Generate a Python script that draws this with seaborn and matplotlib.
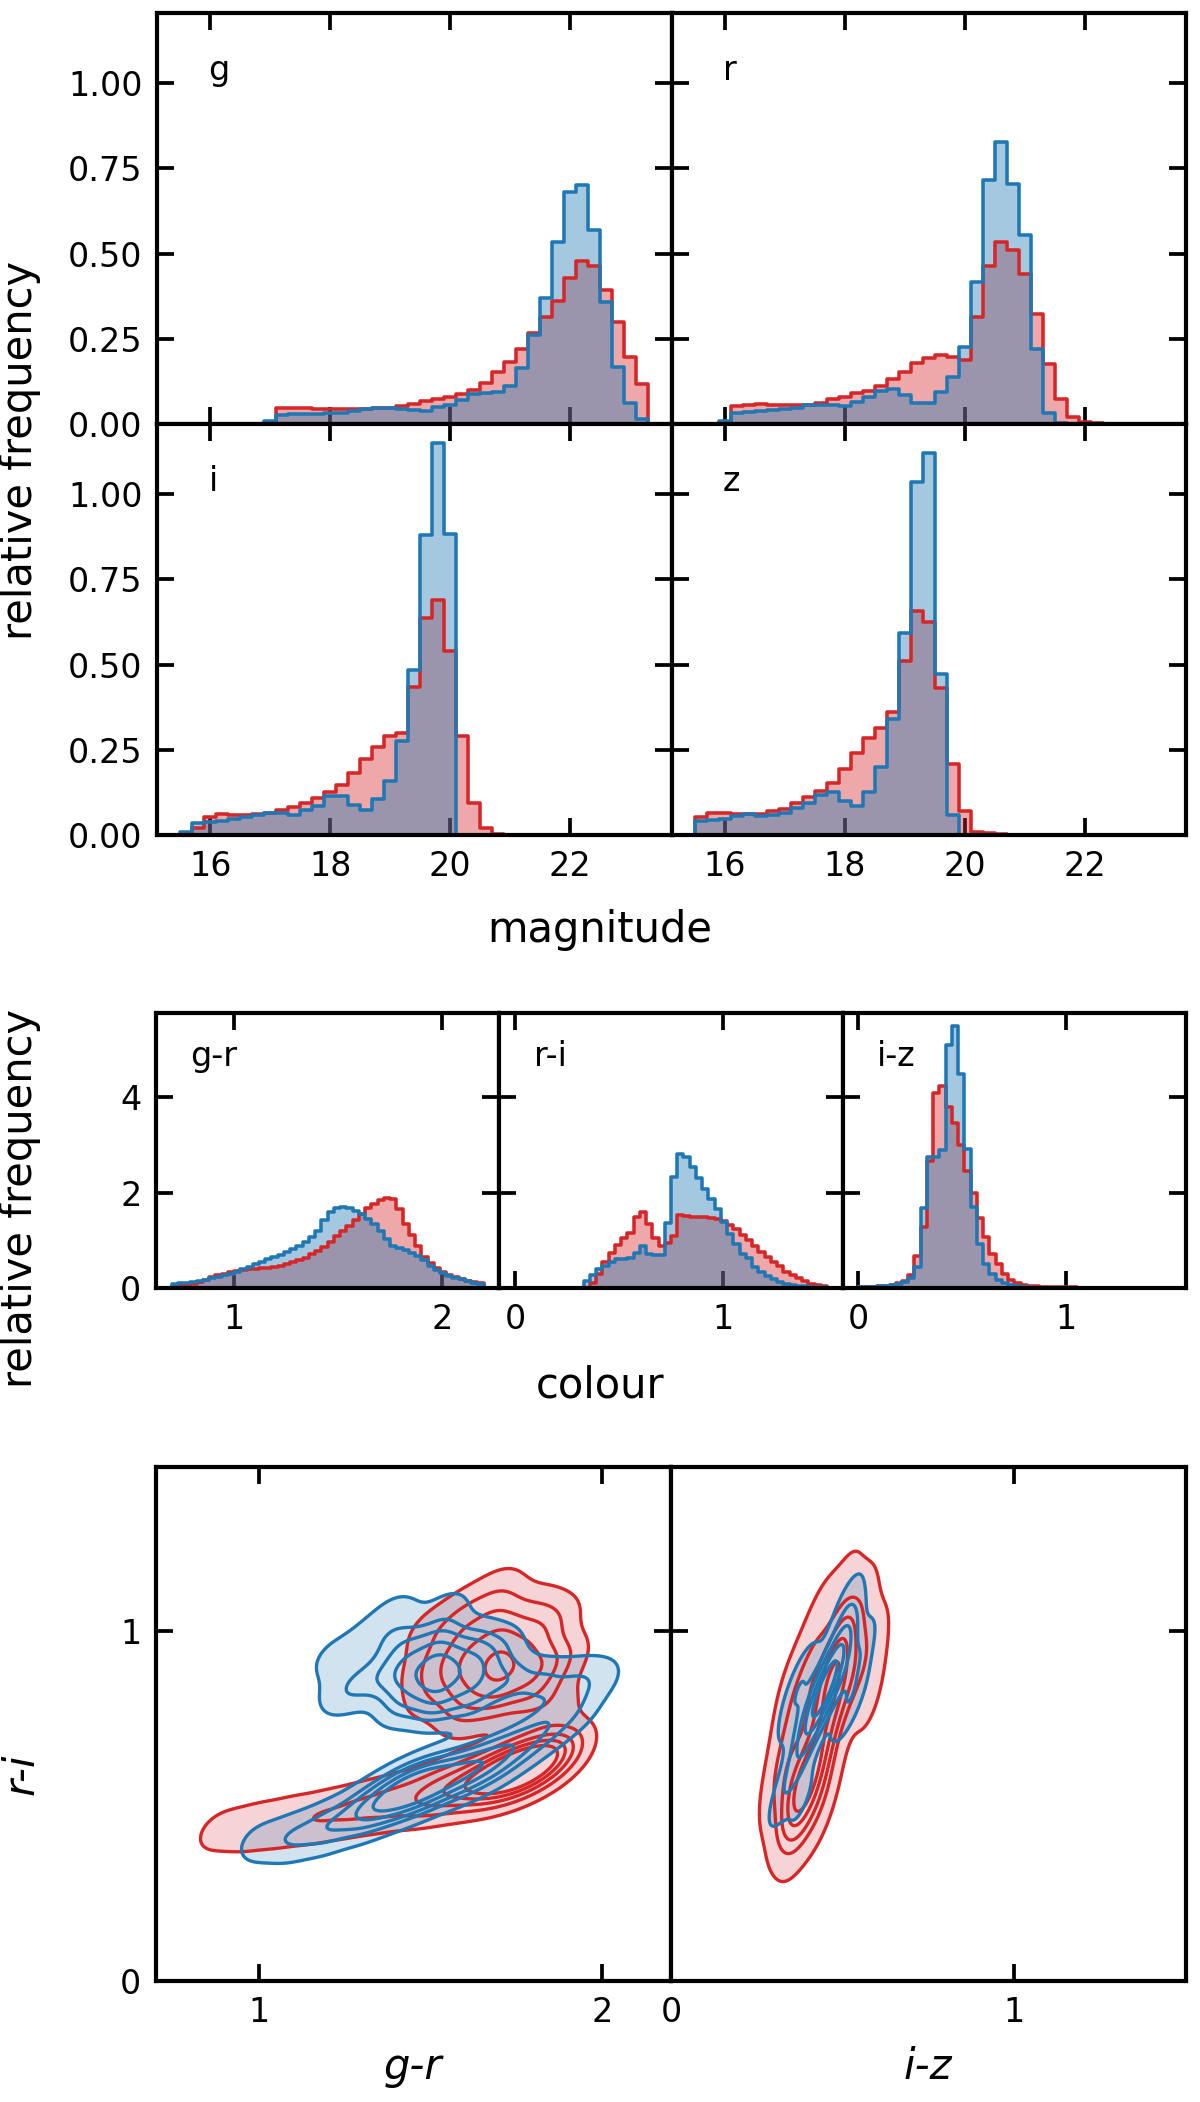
import numpy as np
import matplotlib
matplotlib.use("Agg")
import matplotlib.pyplot as plt
from matplotlib.ticker import FormatStrFormatter
import seaborn as sns

RED = "#d62728"
BLUE = "#1f77b4"

# ---------------- magnitude histograms (relative frequency, 0.2 mag bins) ----------------
mag_bin = 0.2
g_start = 16.9
g_red = [0.003, 0.047, 0.048, 0.046, 0.045, 0.044, 0.043, 0.044, 0.045, 0.047, 0.047,
         0.052, 0.059, 0.067, 0.074, 0.080, 0.088, 0.100, 0.121, 0.153, 0.183, 0.219,
         0.266, 0.315, 0.362, 0.428, 0.477, 0.463, 0.393, 0.298, 0.197, 0.118]
g_blue = [0.010, 0.025, 0.028, 0.029, 0.030, 0.032, 0.033, 0.037, 0.045, 0.047, 0.047,
          0.045, 0.042, 0.039, 0.049, 0.057, 0.070, 0.087, 0.091, 0.094, 0.111, 0.165,
          0.260, 0.370, 0.534, 0.680, 0.700, 0.570, 0.357, 0.168, 0.062, 0.016]
r_start = 15.9
r_red = [0.003, 0.052, 0.057, 0.058, 0.056, 0.055, 0.055, 0.055, 0.062, 0.072, 0.079,
         0.090, 0.098, 0.111, 0.131, 0.153, 0.178, 0.195, 0.203, 0.197, 0.187, 0.315,
         0.464, 0.533, 0.511, 0.440, 0.322, 0.175, 0.074, 0.022, 0.006, 0.002]
r_blue = [0.010, 0.032, 0.036, 0.037, 0.040, 0.043, 0.047, 0.056, 0.057, 0.055, 0.054,
          0.066, 0.078, 0.097, 0.103, 0.085, 0.063, 0.062, 0.095, 0.137, 0.226, 0.418,
          0.715, 0.828, 0.703, 0.555, 0.219, 0.032, 0.003]
i_start = 15.5
i_red = [0.000, 0.020, 0.054, 0.061, 0.059, 0.059, 0.061, 0.064, 0.072, 0.083, 0.095,
         0.108, 0.126, 0.147, 0.182, 0.223, 0.257, 0.290, 0.298, 0.435, 0.636, 0.691,
         0.540, 0.290, 0.093, 0.020, 0.003]
i_blue = [0.010, 0.034, 0.039, 0.042, 0.046, 0.052, 0.059, 0.064, 0.064, 0.059, 0.072,
          0.086, 0.113, 0.113, 0.088, 0.074, 0.106, 0.159, 0.277, 0.483, 0.881, 1.149,
          0.884]
z_start = 15.5
z_red = [0.052, 0.064, 0.064, 0.061, 0.061, 0.061, 0.069, 0.076, 0.095, 0.111, 0.128,
         0.154, 0.194, 0.241, 0.285, 0.314, 0.360, 0.511, 0.658, 0.624, 0.432, 0.209,
         0.069, 0.010, 0.005, 0.003]
z_blue = [0.041, 0.044, 0.047, 0.056, 0.062, 0.057, 0.059, 0.064, 0.079, 0.095, 0.118,
          0.125, 0.101, 0.085, 0.125, 0.199, 0.339, 0.594, 1.036, 1.120, 0.472, 0.059]
mag_labels = ["g", "r", "i", "z"]
mag_ticks = [16, 18, 20, 22]
mag_freq_ticks = [0.0, 0.25, 0.5, 0.75, 1.0]

# ---------------- colour histograms (relative frequency, 0.03 mag bins) ----------------
col_bin = 0.03
gr_start = 0.70
gr_red = [0.035, 0.05, 0.07, 0.09, 0.12, 0.175, 0.22, 0.27, 0.30, 0.325,
          0.35, 0.37, 0.39, 0.40, 0.41, 0.42, 0.44, 0.47, 0.50, 0.55,
          0.59, 0.63, 0.71, 0.77, 0.85, 0.96, 1.09, 1.19, 1.29, 1.42,
          1.56, 1.68, 1.76, 1.84, 1.88, 1.86, 1.65, 1.35, 1.10, 0.88,
          0.64, 0.52, 0.42, 0.34, 0.27, 0.22, 0.185, 0.15, 0.125, 0.105]
gr_blue = [0.09, 0.10, 0.115, 0.13, 0.15, 0.17, 0.205, 0.235, 0.265, 0.30,
           0.34, 0.39, 0.44, 0.50, 0.55, 0.60, 0.64, 0.70, 0.75, 0.82,
           0.89, 0.97, 1.07, 1.20, 1.42, 1.60, 1.67, 1.69, 1.67, 1.62,
           1.55, 1.45, 1.34, 1.20, 1.02, 0.89, 0.84, 0.79, 0.73, 0.66,
           0.58, 0.46, 0.38, 0.31, 0.25, 0.21, 0.18, 0.14, 0.11, 0.09]
ri_start = 0.0
ri_red = [0, 0, 0, 0, 0, 0, 0, 0, 0, 0,
          0, 0, 0.11, 0.30, 0.55, 0.74, 0.90, 1.04, 1.16, 1.49,
          1.60, 1.35, 1.04, 0.87, 0.95, 1.08, 1.53, 1.51, 1.49, 1.49,
          1.48, 1.47, 1.44, 1.40, 1.32, 1.23, 1.11, 1.00, 0.87, 0.75,
          0.65, 0.55, 0.46, 0.34, 0.27, 0.20, 0.15, 0.09, 0.06, 0.04]
ri_blue = [0, 0, 0, 0, 0, 0, 0, 0, 0, 0,
           0, 0.14, 0.28, 0.40, 0.47, 0.55, 0.60, 0.60, 0.62, 0.74,
           0.88, 0.71, 0.69, 0.69, 1.37, 2.33, 2.81, 2.74, 2.53, 2.30,
           2.07, 1.86, 1.65, 1.39, 1.13, 0.93, 0.72, 0.62, 0.44, 0.34,
           0.25, 0.18, 0.13, 0.09, 0.07, 0.05, 0.05, 0.03, 0.03, 0.02]
iz_start = 0.0
iz_red = [0.02, 0.025, 0.03, 0.04, 0.05, 0.07, 0.10, 0.15, 0.27, 0.67,
          1.28, 2.65, 4.08, 4.24, 3.80, 3.45, 3.00, 2.46, 1.98, 1.46,
          1.07, 0.72, 0.51, 0.30, 0.175, 0.105, 0.056, 0.05, 0.04, 0.03,
          0.02, 0.02, 0.02, 0.02, 0.02, 0.01, 0.01, 0.01, 0.01, 0.01]
iz_blue = [0.02, 0.02, 0.03, 0.04, 0.05, 0.06, 0.08, 0.12, 0.20, 0.45,
           1.67, 2.75, 2.75, 2.90, 5.10, 5.49, 4.49, 2.91, 1.69, 0.93,
           0.51, 0.30, 0.175, 0.105, 0.06, 0.04, 0.03, 0.02, 0.01, 0.01]
col_labels = ["g-r", "r-i", "i-z"]
col_freq_ticks = [0, 2, 4]

# ---------------- colour-colour density anchors ----------------
# left panel: x = g-r, y = r-i, w = relative weight
red_left_gr = [0.88, 0.98, 1.08, 1.18, 1.28, 1.38, 1.48, 1.56, 1.64, 1.71, 1.77, 1.83, 1.89,
               1.70, 1.60, 1.80, 1.70, 1.70, 1.60, 1.80, 1.60, 1.80, 1.50, 1.88, 1.70,
               1.60, 1.80, 1.50, 1.50, 1.70, 1.87, 1.87, 1.60]
red_left_ri = [0.43, 0.44, 0.455, 0.47, 0.49, 0.51, 0.53, 0.55, 0.57, 0.59, 0.61, 0.63, 0.66,
               0.90, 0.90, 0.90, 0.82, 0.98, 0.82, 0.82, 0.98, 0.98, 0.90, 0.92, 1.06,
               1.06, 1.06, 0.82, 1.00, 1.13, 1.04, 0.78, 0.76]
red_left_w = [0.3, 0.4, 0.45, 0.5, 0.55, 0.65, 0.8, 1.0, 1.4, 1.9, 2.0, 1.4, 0.7,
              1.4, 1.0, 1.0, 1.0, 1.0, 0.7, 0.7, 0.7, 0.7, 0.5, 0.5, 0.6,
              0.4, 0.4, 0.35, 0.35, 0.25, 0.3, 0.3, 0.3]
blue_left_gr = [1.00, 1.10, 1.20, 1.30, 1.38, 1.45, 1.52, 1.60, 1.68, 1.76, 1.84, 1.92,
                1.52, 1.42, 1.62, 1.52, 1.52, 1.42, 1.62, 1.42, 1.62, 1.32, 1.24, 1.22,
                1.72, 1.82, 1.92, 2.00, 1.40, 1.55, 1.70, 1.32]
blue_left_ri = [0.395, 0.41, 0.44, 0.48, 0.52, 0.55, 0.575, 0.60, 0.635, 0.68, 0.73, 0.78,
                0.88, 0.88, 0.88, 0.80, 0.96, 0.96, 0.96, 0.80, 0.80, 0.86, 0.82, 0.92,
                0.86, 0.85, 0.86, 0.87, 1.05, 1.06, 0.95, 0.98]
blue_left_w = [0.3, 0.5, 0.7, 1.0, 1.4, 1.7, 1.5, 1.3, 1.1, 0.8, 0.6, 0.4,
               1.6, 1.0, 1.0, 0.9, 0.9, 0.6, 0.6, 0.6, 0.6, 0.5, 0.35, 0.3,
               0.7, 0.55, 0.4, 0.25, 0.3, 0.3, 0.4, 0.3]
# right panel: x = i-z, y = r-i, w = relative weight
red_right_iz = [0.39, 0.35, 0.43, 0.34, 0.44, 0.38, 0.31,
                0.465, 0.40, 0.53, 0.46, 0.49, 0.55, 0.43, 0.59, 0.35, 0.51, 0.58, 0.34]
red_right_ri = [0.57, 0.52, 0.62, 0.63, 0.52, 0.46, 0.58,
                0.85, 0.84, 0.88, 0.75, 0.97, 1.05, 1.02, 0.95, 0.85, 1.14, 0.80, 0.74]
red_right_w = [2.6, 1.0, 1.0, 0.7, 0.6, 0.7, 0.4,
               2.4, 0.9, 0.9, 1.0, 1.0, 0.5, 0.5, 0.4, 0.35, 0.3, 0.3, 0.3]
blue_right_iz = [0.45, 0.42, 0.48, 0.40, 0.50, 0.54, 0.38, 0.52, 0.51, 0.37, 0.33, 0.38, 0.36]
blue_right_ri = [0.84, 0.78, 0.90, 0.72, 0.98, 0.92, 0.86, 0.80, 1.07, 0.62, 0.54, 0.52, 0.78]
blue_right_w = [3.0, 1.2, 1.2, 0.8, 0.7, 0.5, 0.4, 0.5, 0.3, 0.45, 0.3, 0.2, 0.3]

# ---------------- style ----------------
sns.set_theme(style="ticks")
plt.rcParams.update({
    "font.family": ["DejaVu Sans"],
    "axes.linewidth": 1.0,
    "axes.edgecolor": "black",
    "xtick.direction": "in", "ytick.direction": "in",
    "xtick.top": True, "ytick.right": True,
    "xtick.major.size": 4, "ytick.major.size": 4,
    "xtick.major.width": 0.9, "ytick.major.width": 0.9,
    "xtick.minor.visible": False, "ytick.minor.visible": False,
    "xtick.labelsize": 8, "ytick.labelsize": 8,
    "xtick.color": "black", "ytick.color": "black",
    "text.color": "black",
})

W, H = 1200, 2102
fig = plt.figure(figsize=(W / 300, H / 300), dpi=300)


def box(x0, y0, x1, y1):
    return [x0 / W, 1 - y1 / H, (x1 - x0) / W, (y1 - y0) / H]


def step_hist(ax, start, width, values, color, part):
    values = np.asarray(values, dtype=float)
    edges = start + width * np.arange(values.size + 1)
    centers = 0.5 * (edges[:-1] + edges[1:])
    edges = [float(e) for e in edges]
    if part == "fill":
        sns.histplot(x=centers, weights=values, bins=edges, element="step",
                     fill=True, color=color, alpha=0.4, linewidth=0, ax=ax)
    else:
        # transparent face, opaque outline drawn on top of all fills
        sns.histplot(x=centers, weights=values, bins=edges, element="step",
                     fill=True, color=color, alpha=0.0, linewidth=0.85, ax=ax)
    ax.set_xlabel("")
    ax.set_ylabel("")


def label(ax, s):
    ax.text(0.1, 0.9, s, transform=ax.transAxes, ha="left", va="top", fontsize=8)


# ---------------- top block: magnitudes ----------------
xm = [157, 671.5, 1186]
ym = [13, 424, 835]
mag_sets = [(g_start, g_red, g_blue), (r_start, r_red, r_blue),
            (i_start, i_red, i_blue), (z_start, z_red, z_blue)]
for k, (start, red, blue) in enumerate(mag_sets):
    row, col = divmod(k, 2)
    ax = fig.add_axes(box(xm[col], ym[row], xm[col + 1], ym[row + 1]))
    step_hist(ax, start, mag_bin, red, RED, "fill")
    step_hist(ax, start, mag_bin, blue, BLUE, "fill")
    step_hist(ax, start, mag_bin, red, RED, "line")
    step_hist(ax, start, mag_bin, blue, BLUE, "line")
    ax.set_xlim(15.11, 23.69)
    ax.set_ylim(0, 1.206)
    ax.set_xticks(mag_ticks)
    ax.set_yticks(mag_freq_ticks)
    ax.yaxis.set_major_formatter(FormatStrFormatter("%.2f"))
    ax.tick_params(labelbottom=(row == 1), labelleft=(col == 0))
    label(ax, mag_labels[k])

fig.text(20 / W, 1 - 450 / H, "relative frequency", rotation=90,
         ha="center", va="center", fontsize=10)
fig.text(0.5, 1 - 930 / H, "magnitude", ha="center", va="center", fontsize=10)

# ---------------- middle block: colours ----------------
xc = [156, 499.3, 842.7, 1186]
yc = [1013, 1288]
col_sets = [(gr_start, gr_red, gr_blue, (0.625, 2.275), [1, 2]),
            (ri_start, ri_red, ri_blue, (-0.075, 1.575), [0, 1]),
            (iz_start, iz_red, iz_blue, (-0.075, 1.575), [0, 1])]
for k, (start, red, blue, xl, xt) in enumerate(col_sets):
    ax = fig.add_axes(box(xc[k], yc[0], xc[k + 1], yc[1]))
    step_hist(ax, start, col_bin, red, RED, "fill")
    step_hist(ax, start, col_bin, blue, BLUE, "fill")
    step_hist(ax, start, col_bin, red, RED, "line")
    step_hist(ax, start, col_bin, blue, BLUE, "line")
    ax.set_xlim(*xl)
    ax.set_ylim(0, 5.76)
    ax.set_xticks(xt)
    ax.set_yticks(col_freq_ticks)
    ax.tick_params(labelleft=(k == 0))
    label(ax, col_labels[k])

fig.text(20 / W, 1 - 1198 / H, "relative frequency", rotation=90,
         ha="center", va="center", fontsize=10)
fig.text(0.5, 1 - 1385 / H, "colour", ha="center", va="center", fontsize=10)

# ---------------- bottom block: colour-colour densities ----------------
xb = [156, 671, 1186]
yb = [1467, 1981]
ax_l = fig.add_axes(box(xb[0], yb[0], xb[1], yb[1]))
ax_r = fig.add_axes(box(xb[1], yb[0], xb[2], yb[1]))

panels = [
    (ax_l, (red_left_gr, red_left_ri, red_left_w), (blue_left_gr, blue_left_ri, blue_left_w), 0.45),
    (ax_r, (red_right_iz, red_right_ri, red_right_w), (blue_right_iz, blue_right_ri, blue_right_w), 0.85),
]
for ax, red, blue, bw in panels:
    for (x, y, w), c in ((red, RED), (blue, BLUE)):
        sns.kdeplot(x=x, y=y, weights=w, fill=True, levels=2, thresh=0.05,
                    color=c, colors=[c], alpha=0.2, bw_adjust=bw, ax=ax)
    for (x, y, w), c in ((red, RED), (blue, BLUE)):
        sns.kdeplot(x=x, y=y, weights=w, fill=False, levels=6, thresh=0.05,
                    color=c, colors=[c], linewidths=0.8, bw_adjust=bw, ax=ax)
    ax.set_ylim(0, 1.47)
    ax.set_yticks([0, 1])
    ax.set_xlabel("")
    ax.set_ylabel("")

ax_l.set_xlim(0.7, 2.2)
ax_l.set_xticks([1, 2])
ax_r.set_xlim(0.0, 1.5)
ax_r.set_xticks([0, 1])
ax_r.tick_params(labelleft=False)

fig.text(413 / W, 1 - 2067 / H, "g-r", style="italic", ha="center", va="center", fontsize=10)
fig.text(928 / W, 1 - 2067 / H, "i-z", style="italic", ha="center", va="center", fontsize=10)
fig.text(22 / W, 1 - 1774 / H, "r-i", style="italic", rotation=90,
         ha="center", va="center", fontsize=10)

fig.savefig("out.png", dpi=300)
